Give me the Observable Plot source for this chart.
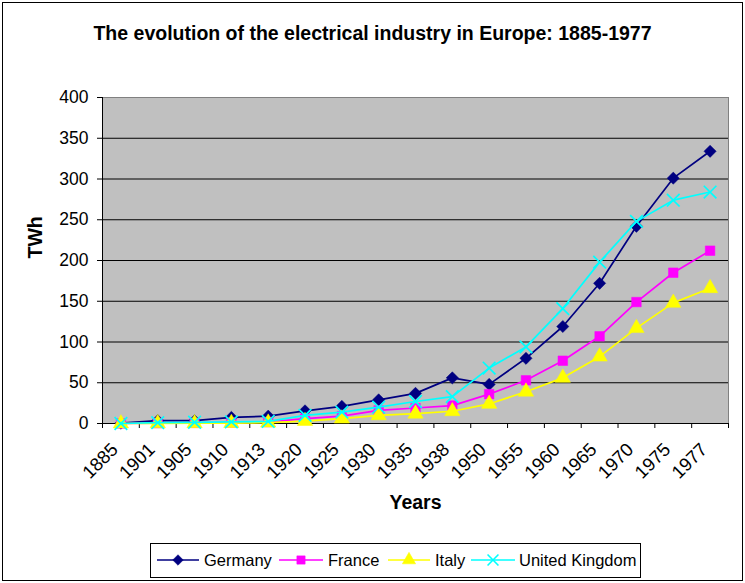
<!DOCTYPE html>
<html>
<head>
<meta charset="utf-8">
<script src="https://cdn.jsdelivr.net/npm/d3@7"></script>
<script src="https://cdn.jsdelivr.net/npm/@observablehq/plot@0.6"></script>
<style>
  body { margin: 0; background: white; font-family: Arial, "Liberation Sans", sans-serif; }
  #wrap { position: relative; width: 745px; height: 583px; overflow: hidden; }
  #frame { position: absolute; left: 2px; top: 2px; width: 739px; height: 577px; border: 1px solid #000; }
  #chart { position: absolute; left: 0; top: 0; }
  #title { position: absolute; left: 0; top: 22px; width: 745px; text-align: center; font-weight: bold; font-size: 19.5px; line-height: 22px; }
  #legend { position: absolute; left: 150px; top: 543px; width: 489px; height: 33px; border: 1px solid #000; background: white; }
  #legend svg { position: absolute; left: 0; top: 0; }
</style>
</head>
<body>
<div id="wrap">
  <div id="frame"></div>
  <div id="chart"></div>
  <div id="title">The evolution of the electrical industry in Europe: 1885-1977</div>
  <div id="legend"></div>
</div>
<script>
const years = ["1885","1901","1905","1910","1913","1920","1925","1930","1935","1938","1950","1955","1960","1965","1970","1975","1977"];
const germany = [0.4, 3.5, 3.5, 7.5, 9, 15.5, 21, 29, 37, 56, 48, 80, 119, 172, 242, 301, 334];
const france  = [0, 0.5, 0.8, 1.2, 1.8, 6, 9, 16, 19, 22, 36, 53, 77, 107, 149, 185, 212];
const italy   = [0, 0.2, 0.3, 0.5, 1, 3, 6, 10, 12, 15, 24, 39, 56, 82, 117, 148, 166];
const uk      = [0, 1, 1.5, 2, 2.5, 10, 14, 20, 27, 33, 68, 94, 141, 198, 248, 274, 284];
const yTicks = [0, 50, 100, 150, 200, 250, 300, 350, 400];

const seriesDefs = [
  {name: "Germany", values: germany, color: "#000080", symbol: "diamond2", r: 5.5, filled: true},
  {name: "France", values: france, color: "#FF00FF", symbol: "square", r: 5.4, filled: true},
  {name: "Italy", values: italy, color: "#FFFF00", symbol: "triangle", r: 5.7, filled: true},
  {name: "United Kingdom", values: uk, color: "#00FFFF", symbol: "times", r: 5.8, filled: false}
];

const idx = years.map((_, i) => i);
const bounds = d3.range(years.length + 1).map(i => i - 0.5);

const marks = [
  Plot.frame({fill: "#C0C0C0", stroke: "#808080"}),
  Plot.ruleY(yTicks.filter(v => v > 0 && v < 400), {stroke: "#000", strokeWidth: 1}),
  Plot.ruleY([0], {stroke: "#000", strokeWidth: 1}),
  Plot.ruleX([-0.5], {stroke: "#000", strokeWidth: 1}),
  Plot.axisY({ticks: yTicks, tickSize: 5, tickPadding: 9, fontSize: 17.5, label: null, stroke: "#000"}),
  Plot.axisX({ticks: bounds, tickSize: 5, tickFormat: () => "", label: null}),
  Plot.text(idx, {x: d => d, y: () => 0, text: d => years[d], rotate: -45, textAnchor: "end", dx: -6, dy: 23, fontSize: 18.5, fill: "#000"}),
  Plot.text(["TWh"], {frameAnchor: "left", dx: -67, dy: -2, rotate: -90, fontWeight: "bold", fontSize: 19.5, fill: "#000"}),
  Plot.text(["Years"], {frameAnchor: "bottom", dy: 85, fontWeight: "bold", fontSize: 19.5, fill: "#000"})
];

for (const s of seriesDefs) {
  const data = s.values.map((v, i) => ({i, v}));
  marks.push(Plot.line(data, {x: "i", y: "v", stroke: s.color, strokeWidth: 1.7}));
  if (s.filled) {
    marks.push(Plot.dot(data, {x: "i", y: "v", symbol: () => s.symbol, r: s.r, fill: s.color, stroke: s.color, strokeWidth: 0.5}));
  } else {
    marks.push(Plot.dot(data, {x: "i", y: "v", symbol: () => s.symbol, r: s.r, fill: "none", stroke: s.color, strokeWidth: 1.7}));
  }
}

const chart = Plot.plot({
  width: 745,
  height: 530,
  marginTop: 97,
  marginLeft: 102,
  marginRight: 17,
  marginBottom: 107,
  style: {background: "transparent", fontFamily: "Arial, 'Liberation Sans', sans-serif", color: "#000", overflow: "visible"},
  x: {type: "linear", domain: [-0.5, years.length - 0.5]},
  y: {type: "linear", domain: [0, 400]},
  marks
});
document.getElementById("chart").appendChild(chart);

// legend
const lg = d3.select("#legend").append("svg").attr("width", 489).attr("height", 33);
const lx = [{l0: 6, l1: 48, t: 53}, {l0: 128, l1: 172, t: 177}, {l0: 237, l1: 279, t: 284}, {l0: 320, l1: 364, t: 368}];
const symMap = {diamond2: d3.symbolDiamond2, square: d3.symbolSquare, triangle: d3.symbolTriangle, times: d3.symbolTimes};
seriesDefs.forEach((s, k) => {
  const p = lx[k], cy = 16, cx = (p.l0 + p.l1) / 2;
  lg.append("line").attr("x1", p.l0).attr("x2", p.l1).attr("y1", cy).attr("y2", cy).attr("stroke", s.color).attr("stroke-width", 1.6);
  const path = d3.symbol(symMap[s.symbol], Math.PI * s.r * s.r * 0.75)();
  lg.append("path").attr("d", path).attr("transform", `translate(${cx},${cy})`)
    .attr("fill", s.filled ? s.color : "none").attr("stroke", s.color).attr("stroke-width", s.filled ? 0.5 : 1.6);
  lg.append("text").attr("x", p.t).attr("y", cy).attr("dy", "0.35em").attr("font-size", 16.5)
    .attr("font-family", "Arial, 'Liberation Sans', sans-serif").text(s.name);
});
</script>
</body>
</html>
